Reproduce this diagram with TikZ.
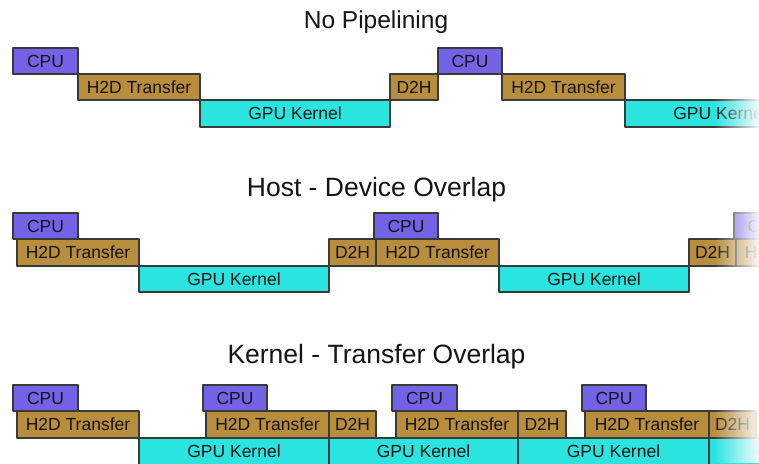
\documentclass[tikz,border=0pt]{standalone}
\usepackage{fontspec}
\setmainfont{Liberation Sans}
\usetikzlibrary{fadings}
\definecolor{cpuc}{HTML}{7462E6}
\definecolor{h2dc}{HTML}{B88D3C}
\definecolor{gpuc}{HTML}{2AE4E0}
\definecolor{edgec}{HTML}{3A3A3A}
\definecolor{txtc}{HTML}{141414}
\tikzfading[name=fadeR, left color=transparent!100, right color=transparent!0]
\tikzset{
  blk/.style={draw=edgec, line width=1.5pt, line join=round, inner sep=0pt, outer sep=0pt,
    text=txtc, font=\fontsize{17.5}{20}\selectfont},
  cpubox/.style={blk, fill=cpuc},
  xferbox/.style={blk, fill=h2dc},
  gpubox/.style={blk, fill=gpuc},
  ttl/.style={anchor=base, text=txtc, inner sep=0pt}
}
\newcommand\blk[7]{%
  \node[#1, minimum width={#4-#3}, minimum height={#6-#5}] (#2) at ({(#3+#4)/2},{(#5+#6)/2}) {#7};}
\begin{document}
\begin{tikzpicture}[x=1pt,y=-1pt]
\useasboundingbox (0,0) rectangle (759,463);
\clip (0,0) rectangle (759,463);
% titles
\node[ttl, font=\fontsize{24.5}{28}\selectfont] (t1) at (376,28) {No Pipelining};
\node[ttl, font=\fontsize{26.5}{30}\selectfont] (t2) at (376.5,196) {Host - Device Overlap};
\node[ttl, font=\fontsize{26.5}{30}\selectfont] (t3) at (376.5,363) {Kernel - Transfer Overlap};
% row 1
\blk{cpubox}{ac1}{13}{78}{48}{74}{CPU}
\blk{xferbox}{ah1}{78}{200}{74}{100}{H2D Transfer}
\blk{gpubox}{ak1}{200}{390}{100}{127}{GPU Kernel}
\blk{xferbox}{ad1}{390}{438}{74}{100}{D2H}
\blk{cpubox}{ac2}{438}{502}{48}{74}{CPU}
\blk{xferbox}{ah2}{502}{625}{74}{100}{H2D Transfer}
\blk{gpubox}{ak2}{625}{815}{100}{127}{GPU Kernel}
% row 2
\blk{cpubox}{bc1}{13}{78}{213}{239}{CPU}
\blk{xferbox}{bh1}{17}{139}{239}{266}{H2D Transfer}
\blk{gpubox}{bk1}{139}{329}{266}{292}{GPU Kernel}
\blk{xferbox}{bd1}{329}{376}{239}{266}{D2H}
\blk{cpubox}{bc2}{374}{438}{213}{239}{CPU}
\blk{xferbox}{bh2}{376}{499}{239}{266}{H2D Transfer}
\blk{gpubox}{bk2}{499}{689}{266}{292}{GPU Kernel}
\blk{xferbox}{bd2}{689}{736}{239}{266}{D2H}
\blk{cpubox}{bc3}{734}{798}{213}{239}{CPU}
\blk{xferbox}{bh3}{736}{858}{239}{266}{H2D Transfer}
% row 3
\blk{cpubox}{cc1}{13}{78}{385}{411}{CPU}
\blk{xferbox}{ch1}{17}{139}{411}{438}{H2D Transfer}
\blk{gpubox}{ck1}{139}{329}{438}{465}{GPU Kernel}
\blk{cpubox}{cc2}{203}{267}{385}{411}{CPU}
\blk{xferbox}{ch2}{206}{329}{411}{438}{H2D Transfer}
\blk{xferbox}{cd1}{329}{376}{411}{438}{D2H}
\blk{gpubox}{ck2}{329}{518}{438}{465}{GPU Kernel}
\blk{cpubox}{cc3}{392}{457}{385}{411}{CPU}
\blk{xferbox}{ch3}{396}{518}{411}{438}{H2D Transfer}
\blk{xferbox}{cd2}{518}{566}{411}{438}{D2H}
\blk{gpubox}{ck3}{518}{709}{438}{465}{GPU Kernel}
\blk{cpubox}{cc4}{582}{646}{385}{411}{CPU}
\blk{xferbox}{ch4}{585}{709}{411}{438}{H2D Transfer}
\blk{xferbox}{cd3}{709}{756}{411}{438}{D2H}
\blk{gpubox}{ck4}{709}{899}{438}{465}{GPU Kernel}
% fade-out at the right edge
\fill[white, path fading=fadeR] (714,0) rectangle (762,463);
\end{tikzpicture}
\end{document}
